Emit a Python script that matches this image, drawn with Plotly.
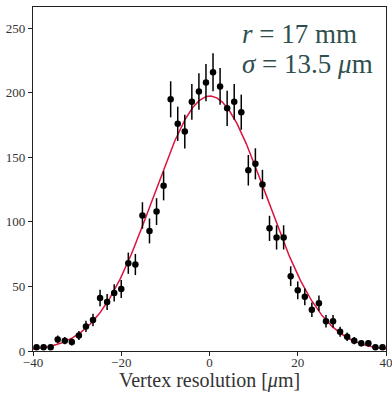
import numpy as np
import plotly.graph_objects as go

# Bin centres (µm) and counts
bin_centres = [-39.2, -37.6, -36.0, -34.4, -32.8, -31.2, -29.6, -28.0, -26.4, -24.8,
               -23.2, -21.6, -20.0, -18.4, -16.8, -15.2, -13.6, -12.0, -10.4, -8.8,
               -7.2, -5.6, -4.0, -2.4, -0.8, 0.8, 2.4, 4.0, 5.6, 7.2,
               8.8, 10.4, 12.0, 13.6, 15.2, 16.8, 18.4, 20.0, 21.6, 23.2,
               24.8, 26.4, 28.0, 29.6, 31.2, 32.8, 34.4, 36.0, 37.6, 39.2]
counts = [3, 3, 3, 9, 8, 7, 12, 19, 24, 41,
          38, 45, 48, 68, 67, 105, 93, 108, 128, 195,
          176, 170, 193, 201, 208, 216, 205, 188, 193, 185,
          140, 145, 129, 95, 88, 88, 58, 47, 42, 32,
          37, 23, 23, 15, 11, 8, 6, 6, 3, 3]

# Gaussian fit parameters
fit_amplitude = 197.5
fit_mean = 0.1
fit_sigma = 12.8

x_ticks = [-40, -20, 0, 20, 40]
y_ticks = [0, 50, 100, 150, 200, 250]

errors = np.sqrt(np.array(counts, dtype=float))
x_fit = np.linspace(-40, 40, 400)
y_fit = fit_amplitude * np.exp(-0.5 * ((x_fit - fit_mean) / fit_sigma) ** 2)

FONT = "Liberation Serif"

fig = go.Figure()
fig.add_trace(go.Scatter(
    x=x_fit, y=y_fit, mode="lines",
    line=dict(color="#dc143c", width=1.5),
    showlegend=False, hoverinfo="skip"))
fig.add_trace(go.Scatter(
    x=bin_centres, y=counts, mode="markers",
    marker=dict(color="black", size=6.5),
    error_y=dict(type="data", array=errors, color="black", thickness=1.5, width=0),
    showlegend=False))

for txt, yp in [("<i>r</i> = 17 mm", 0.921), ("<i>σ</i> = 13.5 <i>μ</i>m", 0.834)]:
    fig.add_annotation(
        x=0.586, y=yp, xref="paper", yref="paper", xanchor="left", yanchor="middle",
        text=txt, showarrow=False, align="left",
        font=dict(family=FONT, size=27, color="#2f4f4f"))

# x-axis title placed as an annotation just under the tick labels
fig.add_annotation(
    x=0.5, y=-0.122, xref="paper", yref="paper", xanchor="center", yanchor="bottom",
    text="Vertex resolution [<i>μ</i>m]", showarrow=False, borderpad=0,
    font=dict(family=FONT, size=20, color="#333"))

axis_common = dict(
    showgrid=False, zeroline=False, showline=True, linecolor="#222", linewidth=1.2,
    mirror=True, ticks="outside", ticklen=4, tickwidth=1, tickcolor="#222",
    automargin=False, ticklabeloverflow="allow",
    tickfont=dict(family=FONT, size=13, color="#333"))

fig.update_xaxes(range=[-40, 40], tickvals=x_ticks, ticklabelstandoff=-5, **axis_common)
fig.update_yaxes(range=[0, 266.5], tickvals=y_ticks, **axis_common)

fig.update_layout(
    width=392, height=393,
    margin=dict(l=33, r=6, t=7, b=42),
    paper_bgcolor="white", plot_bgcolor="white")

fig.write_html("out.html", config={"displayModeBar": False},
               post_script="document.body.style.margin='0';document.body.style.overflow='hidden';")
